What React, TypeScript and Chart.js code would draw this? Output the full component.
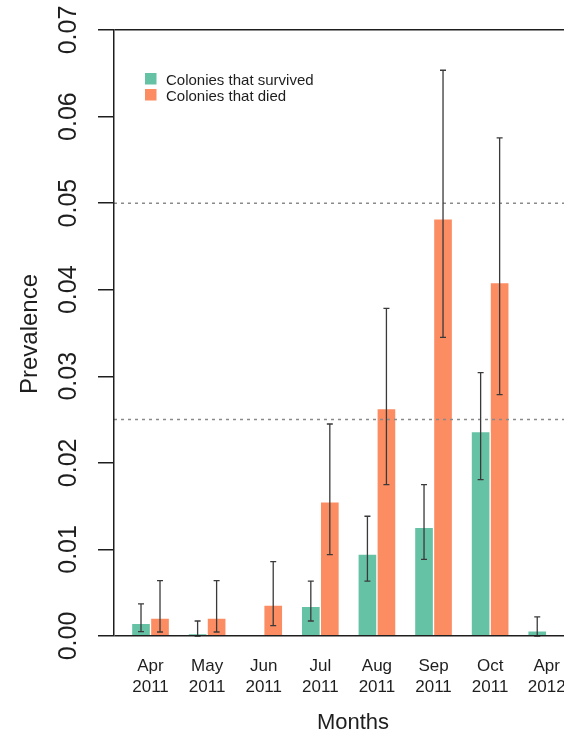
import { useEffect, useRef } from "react";
import { Chart, registerables } from "chart.js";

Chart.register(...registerables);

const months = ["Apr", "May", "Jun", "Jul", "Aug", "Sep", "Oct", "Apr"];
const years = ["2011", "2011", "2011", "2011", "2011", "2011", "2011", "2012"];

const survived = [0.00147, 0.00023, 0, 0.00343, 0.00947, 0.01255, 0.0236, 0.0006];
const survivedLow: (number | null)[] = [0.0005, 0, null, 0.00173, 0.00635, 0.00886, 0.01806, 0];
const survivedHigh: (number | null)[] = [0.0037, 0.00173, null, 0.00635, 0.01383, 0.01748, 0.03042, 0.0022];

const died = [0.00208, 0.00208, 0.00358, 0.01551, 0.02626, 0.0482, 0.04081, 0];
const diedLow: (number | null)[] = [0.00046, 0.00046, 0.00119, 0.00939, 0.01748, 0.0345, 0.02788, null];
const diedHigh: (number | null)[] = [0.00639, 0.00639, 0.00858, 0.02449, 0.03785, 0.06535, 0.05753, null];

const refLines = [0.025, 0.05];
const yMin = 0;
const yMax = 0.07;
const yStep = 0.01;

const seriesLabels = ["Colonies that survived", "Colonies that died"];
const seriesColors = ["#66c2a5", "#fc8d62"];

const FONT = "'Liberation Sans', Arial, Helvetica, sans-serif";
const INK = "#1e1e1e";

const overlay = {
  id: "overlay",
  afterDatasetsDraw(chart: any) {
    const ctx = chart.ctx;
    const y = chart.scales.y;
    const area = chart.chartArea;
    ctx.save();
    // reference dashed lines
    ctx.strokeStyle = "#8a8a8a";
    ctx.lineWidth = 1.5;
    ctx.setLineDash([3, 4]);
    refLines.forEach((v) => {
      const py = y.getPixelForValue(v);
      ctx.beginPath();
      ctx.moveTo(area.left, py);
      ctx.lineTo(area.right, py);
      ctx.stroke();
    });
    ctx.setLineDash([]);
    // error bars
    const errs = [
      [survivedLow, survivedHigh],
      [diedLow, diedHigh],
    ];
    ctx.strokeStyle = "#3a3a3a";
    ctx.lineWidth = 1.3;
    errs.forEach(([lo, hi], di) => {
      const meta = chart.getDatasetMeta(di);
      meta.data.forEach((bar: any, i: number) => {
        const l = lo[i];
        const h = hi[i];
        if (l == null || h == null) return;
        const px = bar.x;
        const y1 = y.getPixelForValue(l);
        const y2 = y.getPixelForValue(h);
        ctx.beginPath();
        ctx.moveTo(px, y1);
        ctx.lineTo(px, y2);
        ctx.moveTo(px - 3, y1);
        ctx.lineTo(px + 3, y1);
        ctx.moveTo(px - 3, y2);
        ctx.lineTo(px + 3, y2);
        ctx.stroke();
      });
    });
    ctx.restore();
  },
  afterDraw(chart: any) {
    const ctx = chart.ctx;
    const x = chart.scales.x;
    const y = chart.scales.y;
    const area = chart.chartArea;
    ctx.save();
    ctx.fillStyle = INK;
    // y tick labels, rotated
    ctx.font = `25px ${FONT}`;
    ctx.textAlign = "center";
    ctx.textBaseline = "alphabetic";
    y.ticks.forEach((t: any) => {
      const py = y.getPixelForValue(t.value);
      ctx.save();
      ctx.translate(area.left - 38, py);
      ctx.rotate(-Math.PI / 2);
      ctx.fillText(t.value.toFixed(2), 0, 0);
      ctx.restore();
    });
    // y title
    ctx.font = `24px ${FONT}`;
    ctx.save();
    ctx.translate(37, (area.top + area.bottom) / 2 + 1);
    ctx.rotate(-Math.PI / 2);
    ctx.fillText("Prevalence", 0, 0);
    ctx.restore();
    // x labels
    ctx.font = `17px ${FONT}`;
    months.forEach((m, i) => {
      const px = x.getPixelForValue(i);
      ctx.fillText(m, px, area.bottom + 35);
      ctx.fillText(years[i], px, area.bottom + 56);
    });
    // x title
    ctx.font = `22px ${FONT}`;
    ctx.fillText("Months", 353, area.bottom + 93);
    // legend
    ctx.font = `15px ${FONT}`;
    ctx.textAlign = "left";
    seriesLabels.forEach((lab, i) => {
      const top = 73 + i * 16;
      ctx.fillStyle = seriesColors[i];
      ctx.fillRect(145, top, 11.5, 11.5);
      ctx.fillStyle = INK;
      ctx.fillText(lab, 166, top + 11.5);
    });
    ctx.restore();
  },
};

export default function App() {
  const ref = useRef<HTMLCanvasElement | null>(null);
  useEffect(() => {
    if (!ref.current) return;
    const chart = new Chart(ref.current, {
      type: "bar",
      data: {
        datasets: [
          {
            label: seriesLabels[0],
            data: survived.map((v, i) => ({ x: i, y: v })),
            backgroundColor: seriesColors[0],
            borderColor: "#ffffff",
            borderWidth: 1,
            barThickness: 19,
          },
          {
            label: seriesLabels[1],
            data: died.map((v, i) => ({ x: i, y: v })),
            backgroundColor: seriesColors[1],
            borderColor: "#ffffff",
            borderWidth: 1,
            barThickness: 19,
          },
        ],
      },
      options: {
        animation: false,
        responsive: false,
        maintainAspectRatio: false,
        layout: { padding: { top: 30, right: 0, bottom: 96, left: 0 } },
        plugins: { legend: { display: false }, tooltip: { enabled: false } },
        scales: {
          x: { type: "linear", min: -0.645, max: 7.305, offset: false, display: false },
          y: {
            min: yMin,
            max: yMax,
            ticks: { stepSize: yStep, display: false },
            grid: {
              z: 1,
              lineWidth: 1.5,
              tickLength: 16,
              tickColor: INK,
              color: (c: any) =>
                c.tick && (Math.abs(c.tick.value - yMin) < 1e-9 || Math.abs(c.tick.value - yMax) < 1e-9)
                  ? INK
                  : "rgba(0,0,0,0)",
            },
            border: { display: true, color: INK, width: 1.5, z: 1 },
            afterFit: (s: any) => {
              s.width = 114;
            },
          },
        },
      },
      plugins: [overlay],
    } as any);
    return () => chart.destroy();
  }, []);
  return (
    <div style={{ position: "absolute", left: 0, top: 0, width: 564, height: 732, background: "#fff" }}>
      <canvas ref={ref} width={564} height={732} style={{ display: "block" }} />
    </div>
  );
}
